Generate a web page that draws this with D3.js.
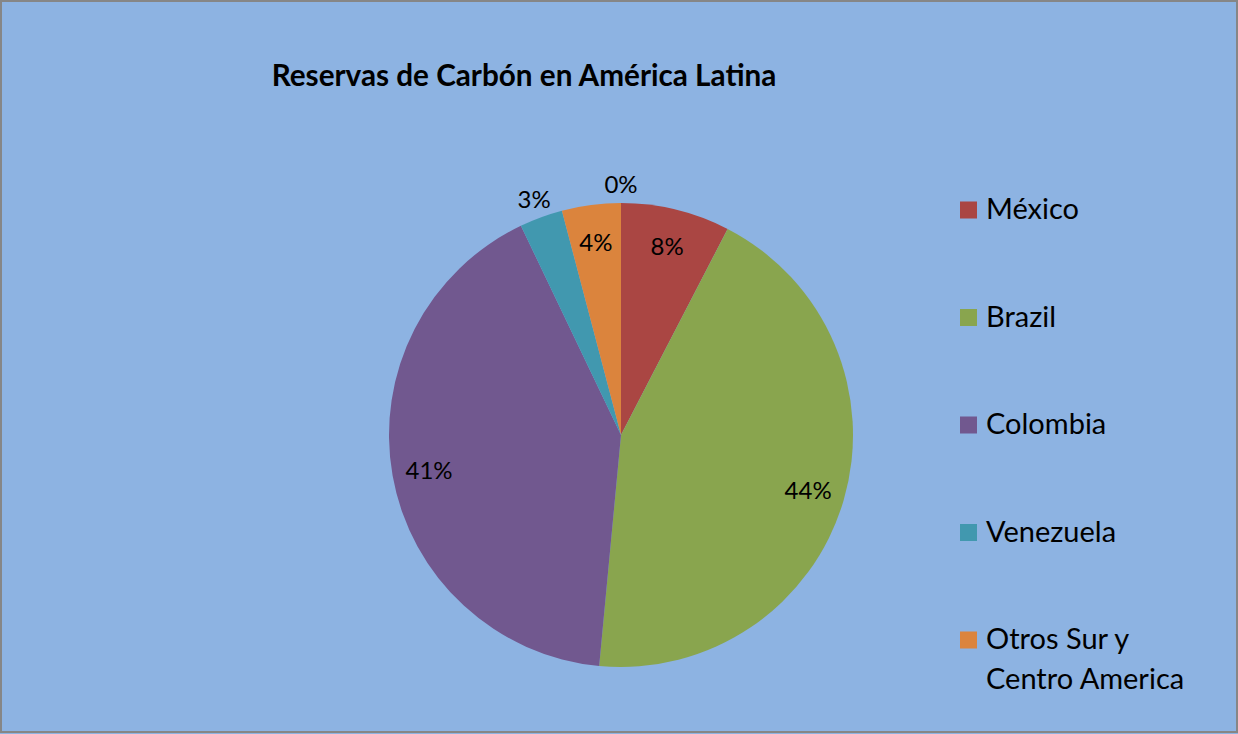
<!DOCTYPE html>
<html>
<head>
<meta charset="utf-8">
<script src="https://cdn.jsdelivr.net/npm/d3@7"></script>
<style>
  html, body { margin: 0; padding: 0; background: #8DB3E2; }
  svg { display: block; font-family: Lato, "Open Sans", sans-serif; }
</style>
</head>
<body>
<svg id="chart" width="1238" height="734"></svg>
<script>
const title = "Reservas de Carbón en América Latina";
// share of reserves (%), last one shows only its 0% label
const countries = ["México", "Brazil", "Colombia", "Venezuela", "Otros Sur y Centro America", "Otros"];
const shares = [7.6, 43.9, 41.4, 3.0, 4.1, 0];
const colors = ["#AA4643", "#89A54E", "#71588F", "#4198AF", "#DB843D", "#4572A7"];

const width = 1238, height = 734;
const cx = 621, cy = 435, radius = 232;

const svg = d3.select("#chart");

svg.append("rect")
  .attr("x", 1).attr("y", 1)
  .attr("width", width - 2).attr("height", height - 3)
  .attr("fill", "#8DB3E2")
  .attr("stroke", "#868686")
  .attr("stroke-width", 2);

svg.append("text")
  .attr("x", 524).attr("y", 86)
  .attr("text-anchor", "middle")
  .attr("font-weight", "bold")
  .attr("font-size", 29.7)
  .attr("fill", "#000")
  .text(title);

const data = countries.map((name, i) => ({ name, value: shares[i], color: colors[i] }));
const total = d3.sum(shares);

const pie = d3.pie().sort(null).value((d) => d.value);
const arcs = pie(data);
const arc = d3.arc().innerRadius(0).outerRadius(radius);

const g = svg.append("g").attr("transform", `translate(${cx},${cy})`);

g.selectAll("path.slice")
  .data(arcs.filter((d) => d.data.value > 0))
  .enter()
  .append("path")
  .attr("class", "slice")
  .attr("d", arc)
  .attr("fill", (d) => d.data.color);

// small slices get their label outside the pie
const inside = d3.arc().innerRadius(195).outerRadius(195);
const outside = d3.arc().innerRadius(252).outerRadius(252);

g.selectAll("text.pct")
  .data(arcs)
  .enter()
  .append("text")
  .attr("class", "pct")
  .attr("transform", (d) => {
    const a = d.data.value < 3.5 ? outside : inside;
    return `translate(${a.centroid(d)})`;
  })
  .attr("text-anchor", "middle")
  .attr("dominant-baseline", "central")
  .attr("font-size", 24)
  .attr("fill", "#000")
  .text((d) => Math.round((d.data.value / total) * 100) + "%");

// legend
const legendItems = data.filter((d) => d.value > 0);
const legend = svg.append("g").attr("transform", "translate(960,0)");
const rowY = d3.scalePoint()
  .domain(legendItems.map((d) => d.name))
  .range([210, 640]);

const rows = legend.selectAll("g.row")
  .data(legendItems)
  .enter()
  .append("g")
  .attr("class", "row")
  .attr("transform", (d) => `translate(0,${rowY(d.name)})`);

rows.append("rect")
  .attr("x", 0).attr("y", -8.5)
  .attr("width", 17).attr("height", 17)
  .attr("fill", (d) => d.color);

rows.append("text")
  .attr("x", 26)
  .attr("y", 9)
  .attr("font-size", 29)
  .attr("fill", "#000")
  .each(function (d) {
    const t = d3.select(this);
    // wrap long names the way the legend does
    const lines = d.name.length > 14 ? ["Otros Sur y", "Centro America"] : [d.name];
    lines.forEach((line, i) => {
      t.append("tspan").attr("x", 26).attr("dy", i === 0 ? 0 : 40).text(line);
    });
  });
</script>
</body>
</html>
